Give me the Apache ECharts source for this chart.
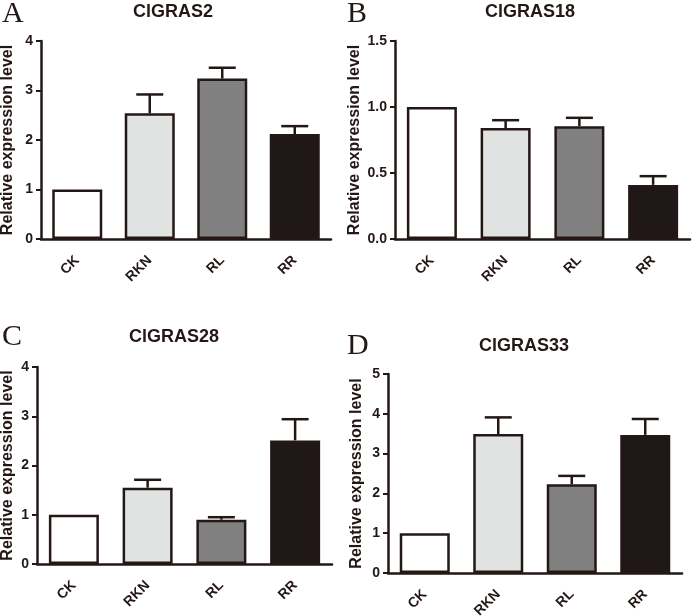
<!DOCTYPE html>
<html>
<head>
<meta charset="utf-8">
<script src="https://cdn.jsdelivr.net/npm/echarts@6/dist/echarts.min.js"></script>
<style>
  html, body { margin: 0; padding: 0; background: #fff; }
  #main { width: 693px; height: 616px; }
</style>
</head>
<body>
<div id="main"></div>
<script>
const categories = ['CK', 'RKN', 'RL', 'RR'];
const panelTitles = ['ClGRAS2', 'ClGRAS18', 'ClGRAS28', 'ClGRAS33'];
const panelLetters = ['A', 'B', 'C', 'D'];

// mean values and upper error bar ends
const gras2Mean = [1.0, 2.54, 3.24, 2.12];
const gras2Upper = [1.0, 2.92, 3.46, 2.28];
const gras18Mean = [1.0, 0.84, 0.855, 0.41];
const gras18Upper = [1.0, 0.90, 0.918, 0.476];
const gras28Mean = [1.0, 1.55, 0.90, 2.51];
const gras28Upper = [1.0, 1.71, 0.95, 2.94];
const gras33Mean = [1.0, 3.49, 2.23, 3.47];
const gras33Upper = [1.0, 3.91, 2.44, 3.87];

const yMax = [4, 1.5, 4, 5];
const yStep = [1, 0.5, 1, 1];

const means = [gras2Mean, gras18Mean, gras28Mean, gras33Mean];
const uppers = [gras2Upper, gras18Upper, gras28Upper, gras33Upper];

const barColors = ['#ffffff', '#e1e3e2', '#808080', '#1f1718'];
const ink = '#231815';
const font = 'Liberation Sans';

// plot boxes (fixed, labels may hang outside)
const grids = [
  { left: 41, top: 41, width: 290, height: 198 },
  { left: 395, top: 41, width: 295, height: 198 },
  { left: 37, top: 367, width: 295, height: 197 },
  { left: 388, top: 374, width: 294, height: 199 },
].map(g => Object.assign({ outerBoundsMode: 'none', containLabel: false }, g));
const nameGaps = [25, 32, 21, 23];

const titles = [
  { text: panelTitles[0], left: 173, top: 3 },
  { text: panelTitles[1], left: 530, top: 3 },
  { text: panelTitles[2], left: 174, top: 328 },
  { text: panelTitles[3], left: 524, top: 337 },
].map(t => ({
  text: t.text, left: t.left, top: t.top, textAlign: 'center', padding: 0,
  textStyle: { fontFamily: font, fontWeight: 'bold', fontSize: 18, color: ink },
}));

const letterPos = [[2, -1], [347, -1], [2, 322], [347, 331]];
const graphic = panelLetters.map((l, i) => ({
  type: 'text', left: letterPos[i][0], top: letterPos[i][1],
  style: { text: l, font: '30px "Liberation Serif", serif', fill: ink },
}));

const xAxis = grids.map((g, i) => ({
  type: 'category', gridIndex: i, data: categories,
  axisLine: { lineStyle: { color: ink, width: 2.5 } },
  axisTick: { alignWithLabel: true, length: 5, lineStyle: { color: ink, width: 2 } },
  axisLabel: { rotate: 45, margin: 19, fontFamily: font, fontWeight: 'bold', fontSize: 14, color: ink },
}));

const yAxis = grids.map((g, i) => ({
  type: 'value', gridIndex: i, min: 0, max: yMax[i], interval: yStep[i],
  name: 'Relative expression level', nameLocation: 'middle', nameGap: nameGaps[i], nameRotate: 90,
  nameTextStyle: { fontFamily: font, fontWeight: 'bold', fontSize: 16, color: ink },
  splitLine: { show: false },
  axisLine: { show: true, lineStyle: { color: ink, width: 2.5 } },
  axisTick: { show: true, length: 5, lineStyle: { color: ink, width: 2 } },
  axisLabel: {
    margin: 8, fontFamily: font, fontWeight: 'bold', fontSize: 14, color: ink,
    formatter: v => (yStep[i] < 1 ? v.toFixed(1) : String(v)),
  },
}));

const series = [];
means.forEach((m, i) => {
  series.push({
    type: 'bar', xAxisIndex: i, yAxisIndex: i, barWidth: 50,
    data: m.map((v, k) => ({ value: v, itemStyle: { color: barColors[k] } })),
    itemStyle: { borderColor: ink, borderWidth: 2.5 },
    z: 3,
  });
  // upper error bars
  series.push({
    type: 'custom', xAxisIndex: i, yAxisIndex: i, z: 2,
    data: m.map((v, k) => [k, v, uppers[i][k]]),
    renderItem(params, api) {
      const top = api.coord([api.value(0), api.value(2)]);
      const base = api.coord([api.value(0), api.value(1)]);
      if (base[1] - top[1] < 1) return null;
      const half = 13.5;
      const st = { stroke: ink, lineWidth: 2.5 };
      return {
        type: 'group',
        children: [
          { type: 'line', shape: { x1: top[0], y1: base[1], x2: top[0], y2: top[1] }, style: st },
          { type: 'line', shape: { x1: top[0] - half, y1: top[1], x2: top[0] + half, y2: top[1] }, style: st },
        ],
      };
    },
  });
});

const chart = echarts.init(document.getElementById('main'));
chart.setOption({
  backgroundColor: '#ffffff',
  animation: false,
  title: titles,
  graphic,
  grid: grids,
  xAxis,
  yAxis,
  series,
});
</script>
</body>
</html>
